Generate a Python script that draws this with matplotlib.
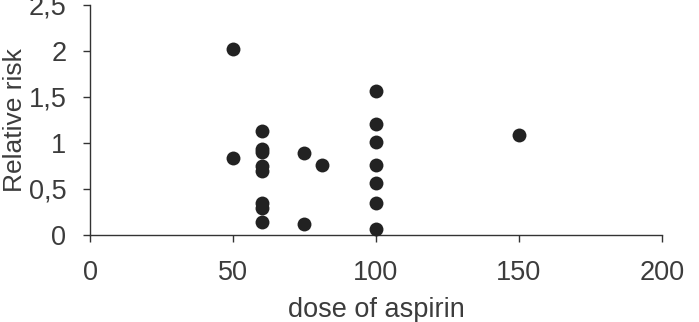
import matplotlib
matplotlib.use("Agg")
import matplotlib.pyplot as plt

# dose of aspirin (mg) and relative risk
dose = [50, 50,
        60, 60, 60, 60, 60, 60, 60, 60,
        75, 75, 81,
        100, 100, 100, 100, 100, 100, 100,
        150]
risk = [2.02, 0.84,
        1.13, 0.93, 0.90, 0.75, 0.70, 0.35, 0.29, 0.14,
        0.89, 0.12, 0.76,
        1.565, 1.21, 1.01, 0.76, 0.57, 0.345, 0.07,
        1.087]

x_ticks = [0, 50, 100, 150, 200]
y_ticks = [0, 0.5, 1, 1.5, 2, 2.5]
y_tick_labels = ["0", "0,5", "1", "1,5", "2", "2,5"]

text_color = "#3c3c3c"
plt.rcParams["font.family"] = ["Liberation Sans", "DejaVu Sans"]

fig = plt.figure(figsize=(6.99, 3.22), dpi=100)
ax = fig.add_axes([90 / 699, 1 - 235 / 322, (662 - 90) / 699, (235 - 5) / 322])

ax.scatter(dose, risk, s=100, color="#222222", linewidths=0, zorder=3, clip_on=False)

ax.set_xlim(0, 200)
ax.set_ylim(0, 2.5)
ax.set_xticks(x_ticks)
ax.set_xticklabels([str(t) for t in x_ticks])
ax.set_yticks(y_ticks)
ax.set_yticklabels(y_tick_labels)

for side in ("top", "right"):
    ax.spines[side].set_visible(False)
for side in ("left", "bottom"):
    ax.spines[side].set_color("#333333")
    ax.spines[side].set_linewidth(1.0)

ax.tick_params(axis="both", direction="out", length=5, width=1.0,
               color="#333333", labelcolor=text_color, labelsize=19.5)
ax.tick_params(axis="x", pad=13)
ax.tick_params(axis="y", pad=12)

ax.set_xlabel("dose of aspirin", fontsize=19.5, color=text_color, labelpad=8)
ax.set_ylabel("Relative risk", fontsize=19, color=text_color, labelpad=1)

fig.savefig("out.png", dpi=100)
